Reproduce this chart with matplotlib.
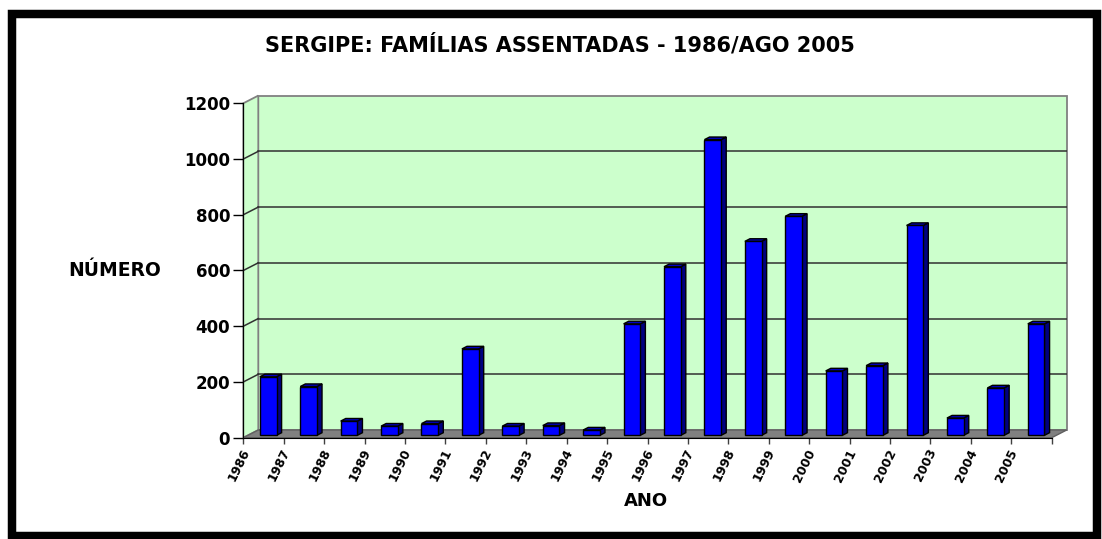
import matplotlib
matplotlib.use("Agg")
import matplotlib.pyplot as plt
from matplotlib.patches import Polygon, Rectangle
from matplotlib.transforms import offset_copy

YEARS = [str(y) for y in range(1986, 2006)]
FAMILIES = [210, 175, 51, 33, 42, 310, 33, 35, 19, 400,
            605, 1061, 696, 786, 231, 250, 753, 62, 170, 400]
YTICKS = [0, 200, 400, 600, 800, 1000, 1200]

TITLE = "SERGIPE: FAMÍLIAS ASSENTADAS - 1986/AGO 2005"
WALL, FLOOR, GRID = "#CCFFCC", "#808080", "#303030"
FRONT, SIDE, TOP = "#0000FF", "#000080", "#0000C0"

W, H = 1102, 539
N = len(YEARS)
YMAX = 1200
DX, DY = 0.371, 27.6          # depth of the box, in data units
A, B = 0.31, 0.65             # bar depth band (fraction of box depth)
BW = 0.413                    # bar width


def poly(ax, pts, fc, ec, z, lw=1.0):
    ax.add_patch(Polygon(pts, closed=True, facecolor=fc, edgecolor=ec,
                         lw=lw, zorder=z, clip_on=False))


def main():
    plt.rcParams["font.family"] = ["DejaVu Sans"]
    fig = plt.figure(figsize=(W / 100, H / 100), dpi=100)
    l, r, b, t = 243.3, 1066.7, 437.7, 95.6
    ax = fig.add_axes([l / W, 1 - b / H, (r - l) / W, (b - t) / H])
    ax.set_xlim(0, N + DX)
    ax.set_ylim(0, YMAX + DY)
    ax.patch.set_visible(False)

    # walls and floor
    poly(ax, [(DX, DY), (N + DX, DY), (N + DX, YMAX + DY), (DX, YMAX + DY)],
         WALL, "#808080", 0, lw=1.3)
    poly(ax, [(0, 0), (DX, DY), (DX, YMAX + DY), (0, YMAX)], WALL, "#808080", 0,
         lw=1.3)
    poly(ax, [(0, 0), (N, 0), (N + DX, DY), (DX, DY)], FLOOR, "#606060", 1)

    for v in YTICKS[1:-1]:
        ax.plot([DX, N + DX], [v + DY, v + DY], color=GRID, lw=1.1, zorder=1)
        ax.plot([0, DX], [v, v + DY], color=GRID, lw=1.1, zorder=1)

    # bars: front face through ax.bar, side and top faces as polygons
    xs = [i + 0.5 + A * DX for i in range(N)]
    ddx, ddy = (B - A) * DX, (B - A) * DY
    ax.bar(xs, FAMILIES, width=BW, bottom=A * DY, color=FRONT,
           edgecolor="black", lw=1, zorder=5)
    for x, v in zip(xs, FAMILIES):
        x0, x1 = x - BW / 2, x + BW / 2
        y0, y1 = A * DY, A * DY + v
        poly(ax, [(x1, y0), (x1 + ddx, y0 + ddy), (x1 + ddx, y1 + ddy), (x1, y1)],
             SIDE, "black", 4)
        poly(ax, [(x0, y1), (x1, y1), (x1 + ddx, y1 + ddy), (x0 + ddx, y1 + ddy)],
             TOP, "black", 4)

    # axes
    for s in ["top", "right"]:
        ax.spines[s].set_visible(False)
    ax.spines["left"].set_bounds(0, YMAX)
    ax.spines["bottom"].set_bounds(0, N)
    ax.spines["bottom"].set_zorder(3)
    ax.set_yticks(YTICKS, labels=[str(v) for v in YTICKS])
    ax.tick_params(axis="y", length=7.2, width=1, pad=2.2, labelsize=12)
    for lab in ax.get_yticklabels():
        lab.set_fontweight("bold")
    ax.set_xticks(range(N + 1), labels=[""] * (N + 1))
    ax.tick_params(axis="x", length=4.3, width=1, color="#404040")

    tr = offset_copy(ax.transData, fig=fig, x=9, y=-9, units="dots")
    for i, yr in enumerate(YEARS):
        ax.text(i, 0, yr, transform=tr, rotation=64, ha="right", va="top",
                fontsize=9, fontweight="bold")

    fig.text(560 / W, 1 - 45 / H, TITLE, ha="center", va="center",
             fontsize=15, fontweight="bold")
    fig.text(115 / W, 1 - 271 / H, "NÚMERO", ha="center", va="center",
             fontsize=13.5, fontweight="bold")
    fig.text(646 / W, 1 - 500.5 / H, "ANO", ha="center", va="center",
             fontsize=13, fontweight="bold")

    # outer black frame
    fig.add_artist(Rectangle((12.2 / W, 1 - 536 / H), (1096.5 - 12.2) / W,
                             (536 - 14) / H, transform=fig.transFigure,
                             fill=False, edgecolor="black", lw=6.1))

    fig.savefig("out.png", dpi=100)


if __name__ == "__main__":
    main()
